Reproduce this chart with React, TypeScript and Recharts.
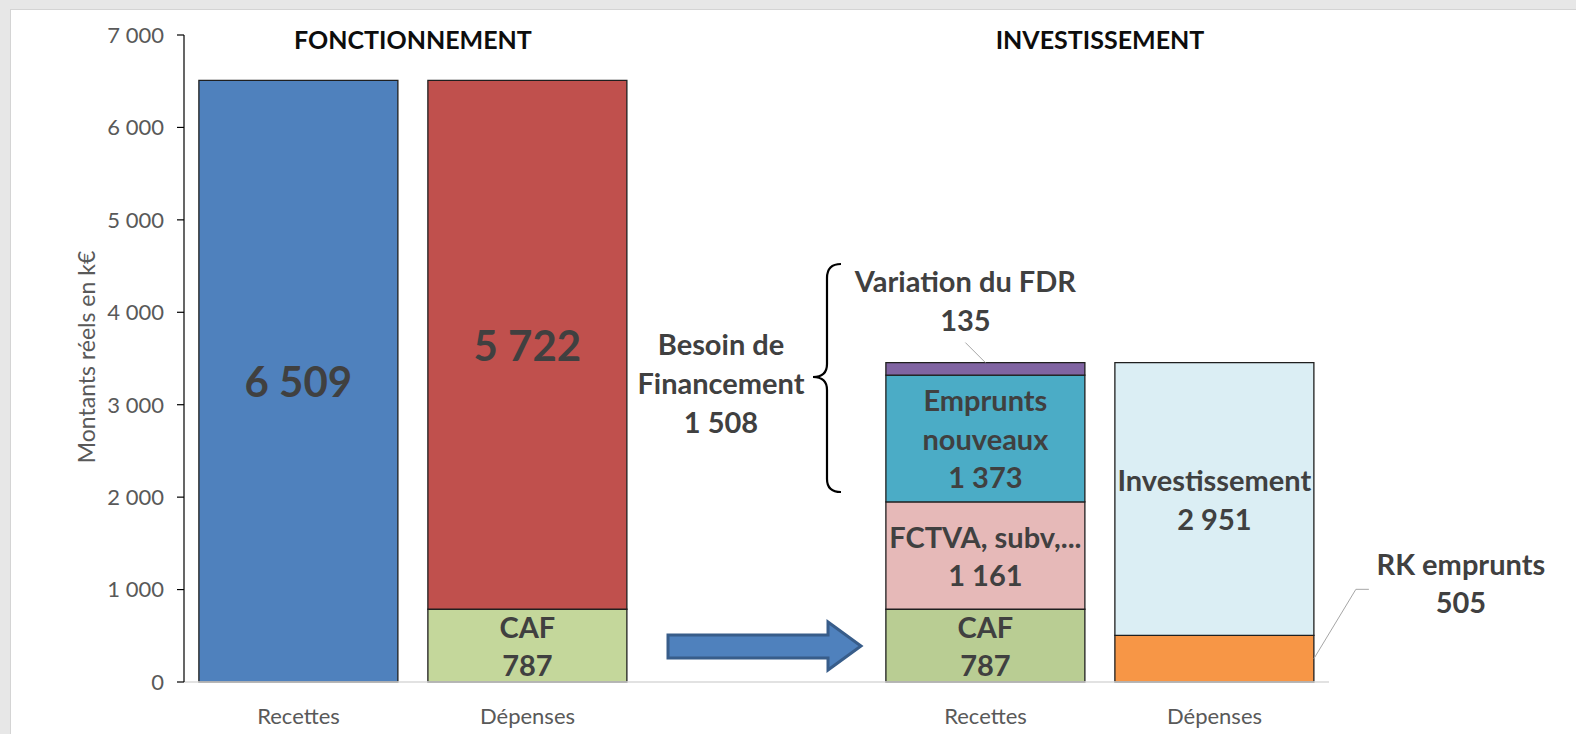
import { BarChart, Bar, XAxis, YAxis, LabelList } from "recharts";

const categories = ["Recettes", "Dépenses", "", "Recettes", "Dépenses"];

// montants réels en k€
const recettesFonct = [6509, 0, 0, 0, 0];
const cafFonct = [0, 787, 0, 0, 0];
const depensesFonct = [0, 5722, 0, 0, 0];
const cafInvest = [0, 0, 0, 787, 0];
const fctva = [0, 0, 0, 1161, 0];
const empruntsNouveaux = [0, 0, 0, 1373, 0];
const variationFdr = [0, 0, 0, 135, 0];
const rkEmprunts = [0, 0, 0, 0, 505];
const investissement = [0, 0, 0, 0, 2951];
const besoinFinancement = 1508;

const yTicks = [0, 1000, 2000, 3000, 4000, 5000, 6000, 7000];

const data = categories.map((cat, i) => ({
  cat,
  recettesFonct: recettesFonct[i],
  cafFonct: cafFonct[i],
  cafInvest: cafInvest[i],
  rkEmprunts: rkEmprunts[i],
  depensesFonct: depensesFonct[i],
  fctva: fctva[i],
  investissement: investissement[i],
  empruntsNouveaux: empruntsNouveaux[i],
  variationFdr: variationFdr[i],
}));

const W = 1576;
const H = 734;
const PLOT_LEFT = 184;
const PLOT_RIGHT = 1329;
const PLOT_TOP = 35;
const PLOT_BOTTOM = 682;
const BAND = (PLOT_RIGHT - PLOT_LEFT) / categories.length;

const FONT = "Lato, 'Open Sans', sans-serif";
const TEXT = "#404040";
const LBL = 29;

const fmt = (v: number) => String(v).replace(/\B(?=(\d{3})+(?!\d))/g, " ");

// read rect geometry whatever shape recharts hands us
const geom = (p: any) => {
  const src = p.viewBox && p.viewBox.width != null ? p.viewBox : p;
  const x = Number(src.x);
  const w = Number(src.width);
  const y0 = Number(src.y);
  const h0 = Number(src.height);
  const y = Math.min(y0, y0 + h0);
  return { x, y, w, h: Math.abs(h0) };
};

const innerLabel = (names: string[], size = LBL) => (props: any) => {
  if (!props.value) return null;
  const { x, y, w, h } = geom(props);
  const lines = [...names, fmt(props.value)];
  const lh = 38.5;
  const cy = y + h / 2;
  const first = cy - ((lines.length - 1) * lh) / 2;
  return (
    <g>
      {lines.map((t, k) => (
        <text
          key={k}
          x={x + w / 2}
          y={first + k * lh}
          textAnchor="middle"
          dominantBaseline="central"
          fontFamily={FONT}
          fontWeight={700}
          fontSize={size}
          fill={TEXT}
        >
          {t}
        </text>
      ))}
    </g>
  );
};

const fdrLabel = (props: any) => {
  if (!props.value) return null;
  const { x, y, w } = geom(props);
  const cx = x + w / 2;
  return (
    <g>
      <line x1={cx - 20} y1={y - 20} x2={cx} y2={y} stroke="#a6a6a6" strokeWidth={1} />
      <text x={cx - 20} y={y - 71} textAnchor="middle" fontFamily={FONT} fontWeight={700} fontSize={LBL} fill={TEXT}>
        Variation du FDR
      </text>
      <text x={cx - 20} y={y - 32} textAnchor="middle" fontFamily={FONT} fontWeight={700} fontSize={LBL} fill={TEXT}>
        {fmt(props.value)}
      </text>
    </g>
  );
};

const rkLabel = (props: any) => {
  if (!props.value) return null;
  const { x, y, w, h } = geom(props);
  const right = x + w;
  return (
    <g>
      <polyline
        points={`${right},${y + h / 2} ${right + 42},${y - 46} ${right + 55},${y - 46}`}
        fill="none"
        stroke="#a6a6a6"
        strokeWidth={1}
      />
      <text x={right + 147} y={y - 60} textAnchor="middle" fontFamily={FONT} fontWeight={700} fontSize={LBL} fill={TEXT}>
        RK emprunts
      </text>
      <text x={right + 147} y={y - 22} textAnchor="middle" fontFamily={FONT} fontWeight={700} fontSize={LBL} fill={TEXT}>
        {fmt(props.value)}
      </text>
    </g>
  );
};

export default function App() {
  const stroke = "#1f1f1f";
  const bars: { key: string; fill: string; content: any }[] = [
    { key: "recettesFonct", fill: "#4F81BD", content: innerLabel([], 42) },
    { key: "cafFonct", fill: "#C4D79B", content: innerLabel(["CAF"]) },
    { key: "cafInvest", fill: "#B9CD93", content: innerLabel(["CAF"]) },
    { key: "rkEmprunts", fill: "#F79646", content: rkLabel },
    { key: "depensesFonct", fill: "#C0504D", content: innerLabel([], 42) },
    { key: "fctva", fill: "#E6B9B8", content: innerLabel(["FCTVA, subv,..."]) },
    { key: "investissement", fill: "#DBEEF4", content: innerLabel(["Investissement"]) },
    { key: "empruntsNouveaux", fill: "#4BACC6", content: innerLabel(["Emprunts", "nouveaux"]) },
    { key: "variationFdr", fill: "#8064A2", content: fdrLabel },
  ];

  const titleFonct = PLOT_LEFT + BAND * 1;
  const titleInvest = PLOT_LEFT + BAND * 4;

  return (
    <div style={{ position: "absolute", left: 0, top: 0, width: W, height: H, background: "#e7e7e7", overflow: "hidden" }}>
      <div
        style={{
          position: "absolute",
          left: 10,
          top: 9,
          width: W - 10,
          height: H - 9,
          background: "#ffffff",
          borderLeft: "1px solid #d4d4d4",
          borderTop: "1px solid #d4d4d4",
          boxSizing: "border-box",
        }}
      />
      <div style={{ position: "absolute", left: 0, top: 0 }}>
        <BarChart
          width={W}
          height={H}
          data={data}
          margin={{ top: PLOT_TOP, right: W - PLOT_RIGHT, bottom: 0, left: 0 }}
          barCategoryGap="6.5%"
        >
          <XAxis
            dataKey="cat"
            height={H - PLOT_BOTTOM}
            interval={0}
            tickLine={false}
            axisLine={{ stroke: "#d9d9d9", strokeWidth: 1.5 }}
            tickMargin={20}
            tick={{ fill: "#595959", fontSize: 22, fontFamily: FONT }}
            allowDuplicatedCategory
          />
          <YAxis
            width={PLOT_LEFT}
            domain={[0, 7000]}
            ticks={yTicks}
            interval={0}
            tickFormatter={fmt}
            axisLine={{ stroke: "#000000", strokeWidth: 1.2 }}
            tickLine={{ stroke: "#000000", strokeWidth: 1.2 }}
            tickSize={7}
            tickMargin={13}
            tick={{ fill: "#595959", fontSize: 22, fontFamily: FONT }}
          />
          {bars.map((b) => (
            <Bar key={b.key} dataKey={b.key} stackId="a" fill={b.fill} stroke={stroke} strokeWidth={1.3} isAnimationActive={false}>
              <LabelList dataKey={b.key} content={b.content} />
            </Bar>
          ))}
        </BarChart>
      </div>
      <svg width={W} height={H} style={{ position: "absolute", left: 0, top: 0, pointerEvents: "none" }}>
        <text x={titleFonct} y={49} textAnchor="middle" fontFamily={FONT} fontWeight={700} fontSize={25} fill="#0d0d0d">
          FONCTIONNEMENT
        </text>
        <text x={titleInvest} y={49} textAnchor="middle" fontFamily={FONT} fontWeight={700} fontSize={25} fill="#0d0d0d">
          INVESTISSEMENT
        </text>
        <text
          x={86}
          y={357}
          transform="rotate(-90 86 357)"
          textAnchor="middle"
          dominantBaseline="central"
          fontFamily={FONT}
          fontSize={23}
          fill="#595959"
        >
          Montants réels en k€
        </text>
        {/* accolade besoin de financement */}
        <path
          d="M841,264 Q827,264 827,278 L827,364 Q827,377 813,377 Q827,377 827,390 L827,479 Q827,492 841,492"
          fill="none"
          stroke="#000000"
          strokeWidth={2.2}
        />
        {["Besoin de", "Financement", fmt(besoinFinancement)].map((t, k) => (
          <text key={k} x={721} y={355 + k * 39} textAnchor="middle" fontFamily={FONT} fontWeight={700} fontSize={LBL} fill={TEXT}>
            {t}
          </text>
        ))}
        {/* flèche CAF */}
        <polygon
          points="668,635 828,635 828,622 861,646 828,670 828,658 668,658"
          fill="#4F81BD"
          stroke="#385D8A"
          strokeWidth={3}
          strokeLinejoin="miter"
        />
      </svg>
    </div>
  );
}
